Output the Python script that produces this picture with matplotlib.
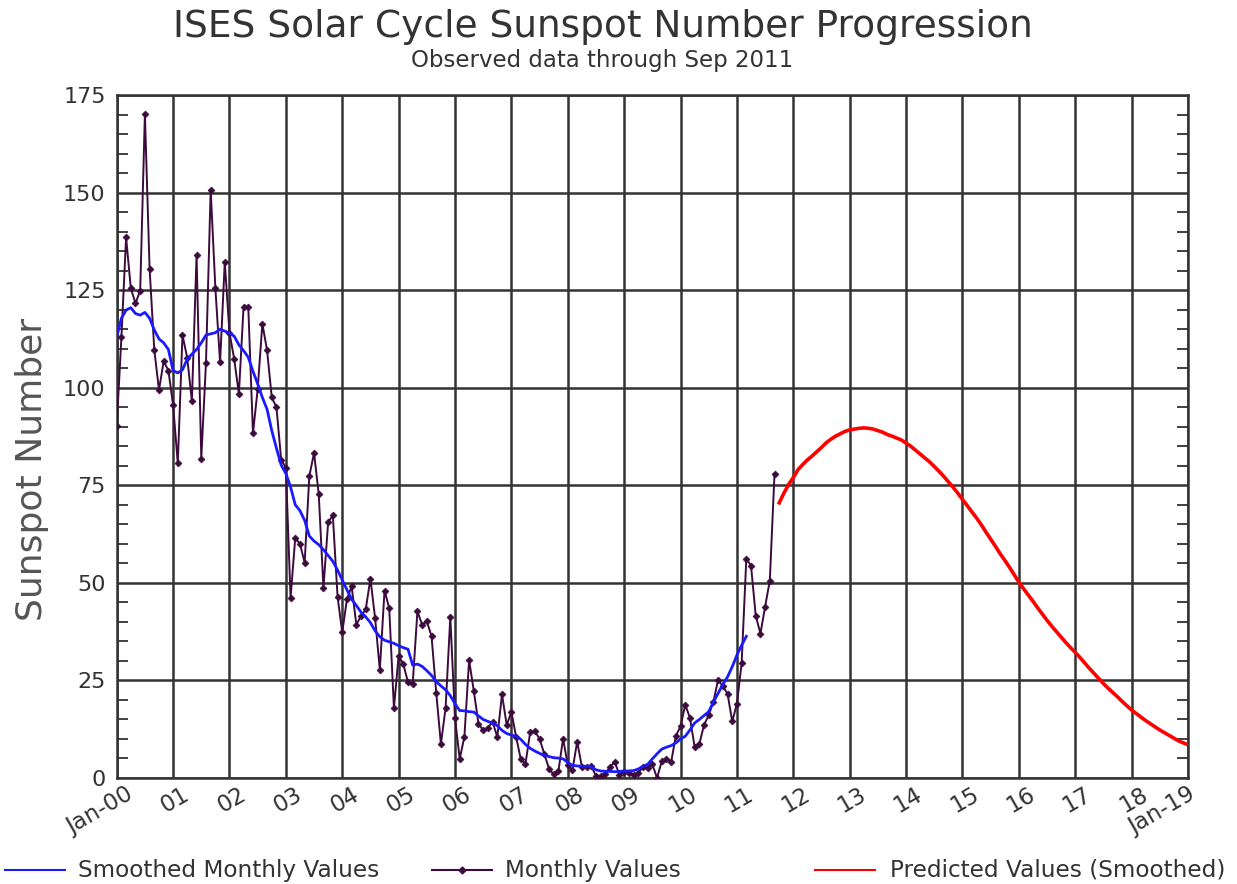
import matplotlib
matplotlib.use("Agg")
import matplotlib.pyplot as plt
import numpy as np
from matplotlib.lines import Line2D
from matplotlib.ticker import MultipleLocator

# ---------------- data ----------------
start_year = 2000
monthly_values = [
    # 2000
    90.1, 112.9, 138.5, 125.5, 121.6, 124.9, 170.1, 130.5, 109.7, 99.4, 106.8, 104.4,
    # 2001
    95.6, 80.6, 113.5, 107.7, 96.6, 134.0, 81.8, 106.4, 150.7, 125.5, 106.5, 132.2,
    # 2002
    114.1, 107.4, 98.4, 120.7, 120.8, 88.3, 99.6, 116.4, 109.6, 97.5, 95.0, 81.6,
    # 2003
    79.5, 46.2, 61.5, 60.0, 55.2, 77.4, 83.3, 72.7, 48.7, 65.5, 67.3, 46.5,
    # 2004
    37.3, 45.8, 49.1, 39.3, 41.5, 43.2, 51.1, 40.9, 27.7, 48.0, 43.5, 17.9,
    # 2005
    31.3, 29.2, 24.5, 24.2, 42.7, 39.3, 40.1, 36.4, 21.9, 8.7, 18.0, 41.2,
    # 2006
    15.3, 4.9, 10.6, 30.2, 22.3, 13.9, 12.2, 12.9, 14.4, 10.5, 21.4, 13.6,
    # 2007
    16.9, 10.6, 4.8, 3.7, 11.7, 12.0, 10.0, 6.2, 2.4, 0.9, 1.7, 10.1,
    # 2008
    3.3, 2.1, 9.3, 2.9, 2.9, 3.1, 0.5, 0.5, 1.1, 2.9, 4.1, 0.8,
    # 2009
    1.5, 1.4, 0.7, 1.2, 2.9, 2.6, 3.5, 0.0, 4.3, 4.8, 4.1, 10.8,
    # 2010
    13.2, 18.8, 15.4, 8.0, 8.7, 13.6, 16.1, 19.6, 25.2, 23.5, 21.6, 14.5,
    # 2011 (through Sep)
    19.0, 29.4, 56.2, 54.4, 41.6, 37.0, 43.9, 50.6, 78.0,
]

smoothed_values = [
    112.9, 117.8, 119.9, 120.5, 119.0, 118.6, 119.3, 117.8, 114.8, 112.5, 111.5, 109.8,
    104.4, 103.8, 104.6, 107.3, 108.6, 109.8, 111.5, 113.5, 113.8, 114.1, 115.0, 114.5,
    114.0, 113.2, 111.0, 109.5, 107.8, 104.2, 101.0, 97.5, 94.5, 89.0, 84.5, 80.2,
    78.0, 74.6, 70.0, 68.5, 66.0, 62.0, 60.7, 59.8, 58.5, 57.0, 55.5, 53.3,
    50.7, 48.2, 45.8, 44.2, 42.5, 41.3, 39.8, 37.7, 36.2, 35.3, 34.9, 34.5,
    33.9, 33.4, 33.0, 28.9, 29.2, 28.6, 27.5, 26.3, 24.7, 23.6, 22.6, 21.1,
    19.0, 17.3, 17.2, 17.0, 16.9, 15.9, 15.0, 14.5, 14.1, 13.4, 12.2, 11.4,
    11.0, 10.7, 9.9, 8.6, 7.6, 6.9, 6.3, 5.8, 5.5, 5.2, 5.1, 4.9,
    4.0, 3.2, 3.1, 3.0, 3.0, 2.9, 2.1, 1.8, 1.7, 1.7, 1.6, 1.7,
    1.8, 1.8, 1.9, 2.3, 3.0, 3.5, 4.9, 6.2, 7.4, 7.9, 8.3, 9.0,
    10.0, 10.7, 12.3, 14.1, 15.0, 16.0, 17.0, 19.5, 21.7, 24.0, 25.9, 28.5,
    31.5, 34.0, 36.3,
]

predicted_start_month = 141  # Oct 2011 (months after Jan 2000)
predicted_values = [
    70.5, 73.0, 75.2,
    77.0, 79.0, 80.3, 81.5, 82.5, 83.6, 84.7, 85.9, 86.8, 87.6, 88.2, 88.8,
    89.2, 89.4, 89.6, 89.7, 89.6, 89.4, 89.0, 88.6, 88.0, 87.6, 87.1, 86.6,
    85.8, 85.0, 84.0, 83.0, 82.0, 81.0, 79.8, 78.6, 77.3, 75.9, 74.5, 73.0,
    71.4, 69.8, 68.2, 66.6, 64.9, 63.0, 61.2, 59.4, 57.5, 55.8, 54.0, 52.1,
    50.2, 48.5, 46.9, 45.3, 43.6, 42.0, 40.4, 38.9, 37.5, 36.1, 34.7, 33.4,
    32.2, 30.9, 29.5, 28.1, 26.8, 25.5, 24.2, 23.0, 21.9, 20.8, 19.6, 18.5,
    17.4, 16.5, 15.6, 14.7, 13.9, 13.1, 12.3, 11.6, 10.9, 10.2, 9.5, 9.0,
    8.5,
]

year_ticks = list(range(2000, 2020))
year_labels = ["Jan-00"] + ["%02d" % (y % 100) for y in range(2001, 2019)] + ["Jan-19"]
y_ticks = [0, 25, 50, 75, 100, 125, 150, 175]

title = "ISES Solar Cycle Sunspot Number Progression"
subtitle = "Observed data through Sep 2011"
ylabel = "Sunspot Number"
legend_labels = ["Smoothed Monthly Values", "Monthly Values", "Predicted Values (Smoothed)"]

# ---------------- colors ----------------
c_month = "#3c0a3c"
c_smooth = "#1a1aff"
c_pred = "#ff0000"
c_grid = "#333333"
c_text = "#333333"

# ---------------- figure ----------------
fig = plt.figure(figsize=(12.37, 8.84), dpi=100)
W, H = 1237.0, 884.0
L, R, T, B = 116.7, 1188.0, 95.0, 778.0
ax = fig.add_axes([L / W, 1 - B / H, (R - L) / W, (B - T) / H])

def mx(start, n):
    return start_year + (start + np.arange(n)) / 12.0

x_month = mx(0, len(monthly_values))
x_smooth = mx(0, len(smoothed_values))
x_pred = mx(predicted_start_month, len(predicted_values))

ax.set_xlim(2000, 2019)
ax.set_ylim(0, 175)

ax.set_xticks(year_ticks)
ax.set_xticklabels([])
ax.set_yticks(y_ticks)
ax.set_yticklabels([str(v) for v in y_ticks])
ax.yaxis.set_minor_locator(MultipleLocator(5))
ax.grid(True, which="major", color=c_grid, linewidth=1.8)
ax.set_axisbelow(True)
ax.tick_params(axis="x", which="both", length=0)
ax.tick_params(axis="y", which="major", length=0, labelsize=16, labelcolor=c_text, pad=8)
ax.tick_params(axis="y", which="minor", direction="in", length=8, width=1.3,
               color=c_grid, left=True, right=True)
for s in ax.spines.values():
    s.set_color(c_grid)
    s.set_linewidth(1.8)

ax.plot(x_month, monthly_values, color=c_month, linewidth=1.4, marker="D",
        markersize=3.5, markeredgewidth=0.5, zorder=3)
ax.plot(x_smooth, smoothed_values, color=c_smooth, linewidth=2.0, zorder=4)
ax.plot(x_pred, predicted_values, color=c_pred, linewidth=2.6, zorder=4)

# rotated x labels
for yr, lab in zip(year_ticks, year_labels):
    dx = 9 if yr < 2019 else 0
    ax.annotate(lab, xy=(yr, 0), xycoords=("data", "axes fraction"),
                xytext=(dx, -5), textcoords="offset pixels",
                rotation=30, rotation_mode="anchor", ha="right", va="top",
                fontsize=16.5, color=c_text)

# titles
fig.text(0.487, 1 - 27 / H, title, ha="center", va="center", fontsize=27, color=c_text)
fig.text(0.487, 1 - 60 / H, subtitle, ha="center", va="center", fontsize=16.5, color=c_text)
fig.text(32 / W, 1 - 469 / H, ylabel, ha="center", va="center", rotation=90,
         fontsize=26, color="#555555")

# legend (manual)
ly = 1 - 870 / H
fig.add_artist(Line2D([5 / W, 65 / W], [ly, ly], color=c_smooth, linewidth=1.5))
fig.text(78 / W, ly, legend_labels[0], ha="left", va="center", fontsize=16.7, color=c_text)
fig.add_artist(Line2D([432 / W, 492 / W], [ly, ly], color=c_month, linewidth=1.5))
fig.add_artist(Line2D([462 / W], [ly], color=c_month, marker="D", markersize=3.5))
fig.text(505 / W, ly, legend_labels[1], ha="left", va="center", fontsize=16.7, color=c_text)
fig.add_artist(Line2D([815 / W, 875 / W], [ly, ly], color=c_pred, linewidth=1.5))
fig.text(890 / W, ly, legend_labels[2], ha="left", va="center", fontsize=16.7, color=c_text)

fig.savefig("out.png", dpi=100)
